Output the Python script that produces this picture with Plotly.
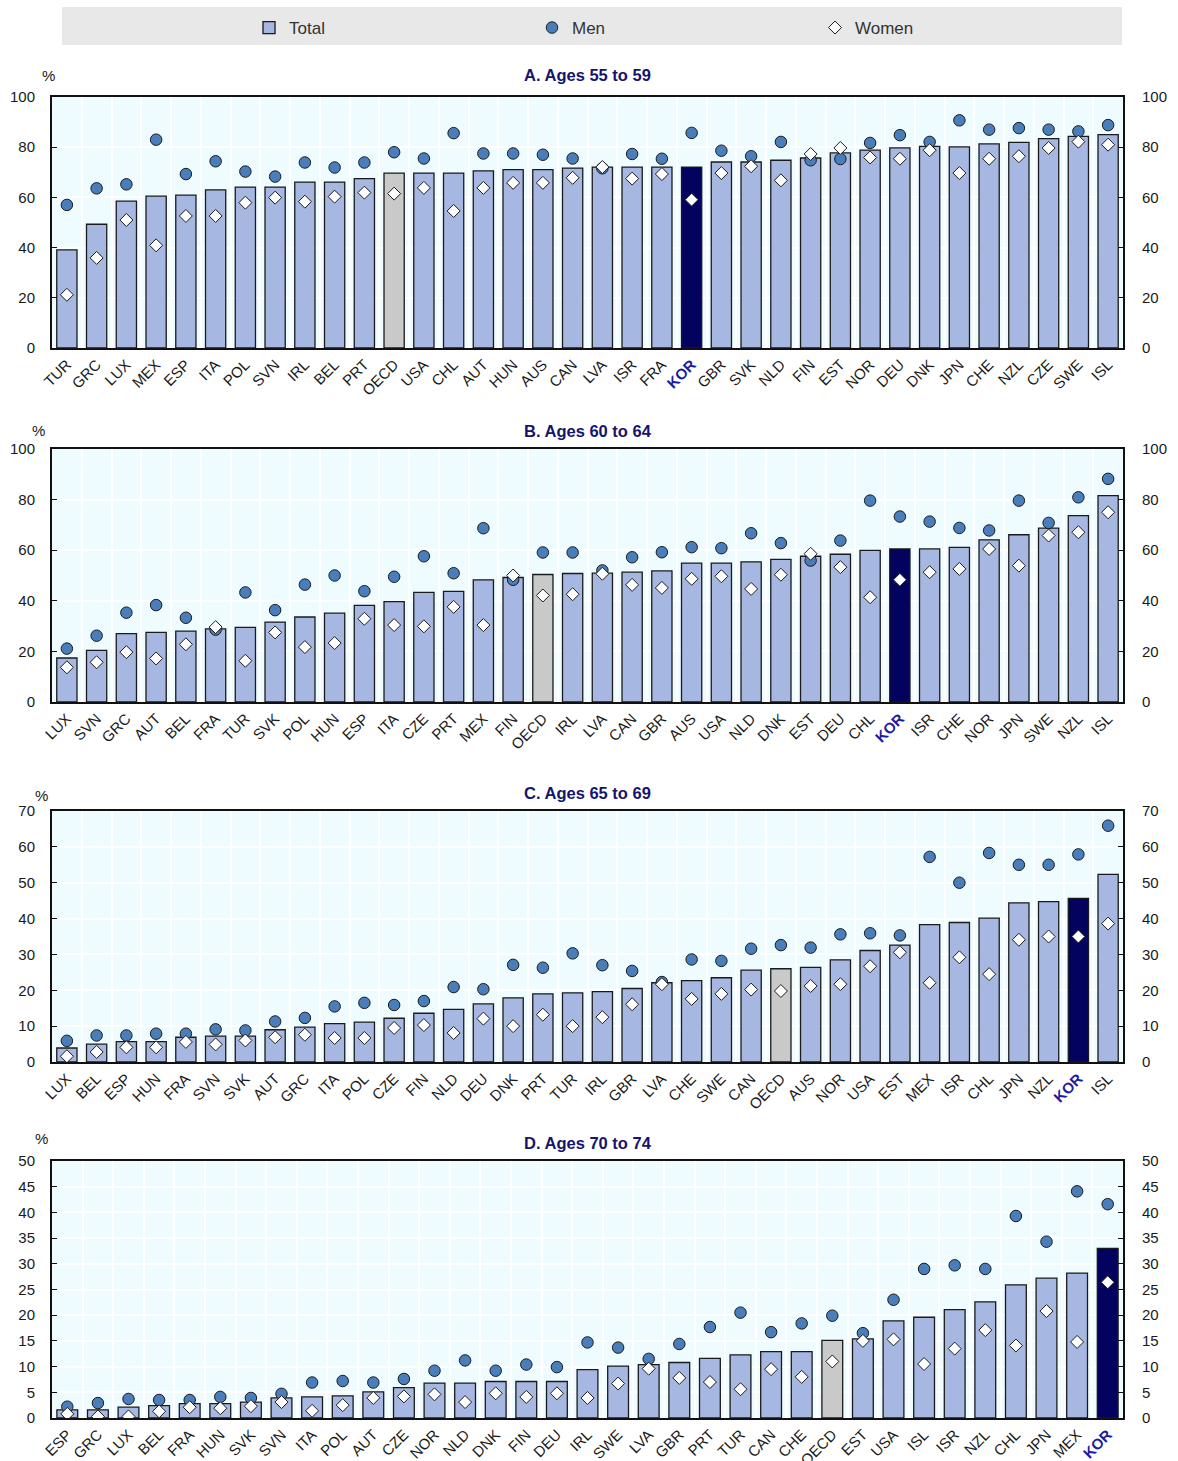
import plotly.graph_objects as go

# ---------------- Data ----------------
# Panel A: Ages 55 to 59
a_countries = ["TUR", "GRC", "LUX", "MEX", "ESP", "ITA", "POL", "SVN", "IRL", "BEL", "PRT", "OECD",
               "USA", "CHL", "AUT", "HUN", "AUS", "CAN", "LVA", "ISR", "FRA", "KOR", "GBR", "SVK",
               "NLD", "FIN", "EST", "NOR", "DEU", "DNK", "JPN", "CHE", "NZL", "CZE", "SWE", "ISL"]
a_total = [39.1, 49.3, 58.5, 60.5, 60.9, 63.0, 64.1, 64.1, 66.1, 66.1, 67.5, 69.7,
           69.7, 69.7, 70.6, 71.1, 71.1, 71.7, 72.1, 72.1, 72.1, 72.1, 74.1, 74.1,
           74.8, 75.7, 77.7, 78.8, 79.7, 80.3, 80.1, 81.3, 81.9, 83.4, 84.3, 85.0]
a_men = [57.0, 63.6, 65.2, 83.0, 69.3, 74.4, 70.3, 68.3, 73.9, 71.9, 73.9, 78.0,
         75.5, 85.6, 77.5, 77.5, 77.0, 75.5, 71.6, 77.3, 75.4, 85.7, 78.6, 76.4,
         82.1, 74.8, 75.3, 81.7, 84.8, 82.1, 90.7, 87.0, 87.6, 87.0, 86.3, 88.8]
a_women = [21.2, 35.9, 51.0, 40.9, 52.6, 52.6, 57.9, 59.9, 58.3, 60.3, 61.9, 61.5,
           63.8, 54.6, 63.8, 65.8, 65.8, 67.8, 72.1, 67.5, 69.3, 59.1, 69.7, 72.4,
           66.8, 77.3, 79.7, 75.9, 75.4, 78.8, 69.7, 75.4, 76.4, 79.7, 82.2, 81.0]

# Panel B: Ages 60 to 64
b_countries = ["LUX", "SVN", "GRC", "AUT", "BEL", "FRA", "TUR", "SVK", "POL", "HUN", "ESP", "ITA",
               "CZE", "PRT", "MEX", "FIN", "OECD", "IRL", "LVA", "CAN", "GBR", "AUS", "USA", "NLD",
               "DNK", "EST", "DEU", "CHL", "KOR", "ISR", "CHE", "NOR", "JPN", "SWE", "NZL", "ISL"]
b_total = [17.4, 20.4, 27.0, 27.5, 28.0, 28.9, 29.5, 31.6, 33.6, 35.1, 38.2, 39.7,
           43.3, 43.7, 48.3, 49.2, 50.4, 50.8, 50.9, 51.3, 51.8, 54.9, 54.9, 55.4,
           56.4, 57.6, 58.4, 59.9, 60.5, 60.5, 61.1, 64.1, 66.1, 68.7, 73.7, 81.6]
b_men = [21.1, 26.2, 35.3, 38.3, 33.3, 28.6, 43.3, 36.3, 46.4, 50.0, 43.8, 49.5,
         57.6, 50.9, 68.7, 48.3, 59.1, 59.1, 52.0, 57.2, 59.2, 61.2, 60.8, 66.7,
         62.8, 55.9, 63.8, 79.6, 73.3, 71.3, 68.8, 67.8, 79.6, 70.8, 80.9, 88.2]
b_women = [13.7, 15.7, 19.7, 17.2, 22.8, 29.6, 16.3, 27.5, 21.7, 23.3, 32.9, 30.4,
           29.9, 37.6, 30.4, 50.0, 42.1, 42.6, 50.7, 46.3, 45.1, 48.7, 49.7, 44.7,
           50.3, 58.6, 53.3, 41.4, 48.3, 51.3, 52.6, 60.5, 53.9, 65.8, 67.1, 75.0]

# Panel C: Ages 65 to 69
c_countries = ["LUX", "BEL", "ESP", "HUN", "FRA", "SVN", "SVK", "AUT", "GRC", "ITA", "POL", "CZE",
               "FIN", "NLD", "DEU", "DNK", "PRT", "TUR", "IRL", "GBR", "LVA", "CHE", "SWE", "CAN",
               "OECD", "AUS", "NOR", "USA", "EST", "MEX", "ISR", "CHL", "JPN", "NZL", "KOR", "ISL"]
c_total = [3.9, 5.0, 5.7, 5.7, 6.9, 7.2, 7.2, 9.0, 9.7, 10.7, 11.1, 12.2,
           13.6, 14.7, 16.2, 17.9, 19.0, 19.3, 19.6, 20.5, 22.1, 22.7, 23.5, 25.6,
           26.0, 26.4, 28.5, 31.1, 32.6, 38.3, 38.9, 40.1, 44.4, 44.7, 45.6, 52.3]
c_men = [5.9, 7.4, 7.4, 7.9, 7.9, 9.1, 8.8, 11.3, 12.3, 15.5, 16.5, 15.9,
         17.0, 20.9, 20.3, 27.1, 26.3, 30.3, 27.0, 25.4, 22.3, 28.6, 28.2, 31.6,
         32.6, 31.9, 35.6, 35.9, 35.3, 57.2, 50.0, 58.3, 55.0, 55.0, 57.9, 65.9]
c_women = [1.6, 2.8, 4.1, 4.1, 5.6, 4.9, 6.0, 6.9, 7.6, 6.7, 6.7, 9.5,
           10.3, 8.1, 12.1, 10.0, 13.2, 10.0, 12.5, 16.1, 21.7, 17.6, 19.0, 20.2,
           19.8, 21.2, 21.7, 26.7, 30.6, 22.1, 29.2, 24.5, 34.1, 35.0, 35.0, 38.6]

# Panel D: Ages 70 to 74
d_countries = ["ESP", "GRC", "LUX", "BEL", "FRA", "HUN", "SVK", "SVN", "ITA", "POL", "AUT", "CZE",
               "NOR", "NLD", "DNK", "FIN", "DEU", "IRL", "SWE", "LVA", "GBR", "PRT", "TUR", "CAN",
               "CHE", "OECD", "EST", "USA", "ISL", "ISR", "NZL", "CHL", "JPN", "MEX", "KOR"]
d_total = [1.6, 1.6, 2.1, 2.4, 2.8, 2.8, 3.1, 3.9, 4.1, 4.3, 5.1, 5.9,
           6.8, 6.8, 7.1, 7.1, 7.1, 9.4, 10.1, 10.4, 10.8, 11.6, 12.3, 12.9,
           12.9, 15.1, 15.4, 18.9, 19.6, 21.1, 22.6, 25.9, 27.2, 28.2, 33.0]
d_men = [2.2, 2.9, 3.7, 3.5, 3.5, 4.1, 3.9, 4.7, 6.9, 7.2, 6.9, 7.6,
         9.2, 11.2, 9.2, 10.4, 9.9, 14.7, 13.7, 11.5, 14.4, 17.7, 20.5, 16.7,
         18.4, 19.9, 16.5, 23.0, 29.0, 29.7, 29.0, 39.3, 34.3, 44.1, 41.6]
d_women = [0.8, 0.3, 0.3, 1.3, 2.1, 1.9, 2.3, 3.1, 1.4, 2.5, 3.9, 4.2,
           4.6, 3.1, 4.8, 4.1, 4.8, 3.9, 6.7, 9.6, 7.8, 7.0, 5.6, 9.5,
           8.0, 11.0, 15.0, 15.3, 10.5, 13.5, 17.1, 14.1, 20.8, 14.8, 26.4]

panel_titles = ["A. Ages 55 to 59", "B. Ages 60 to 64", "C. Ages 65 to 69", "D. Ages 70 to 74"]
y_max = [100, 100, 70, 50]
y_step = [20, 20, 10, 5]

# ---------------- Style ----------------
FONT = "Liberation Sans, Arial, sans-serif"
BAR_COLOR = "#a6b7e2"
OECD_COLOR = "#c9c9c9"
KOR_COLOR = "#03035f"
MEN_COLOR = "#4a7ebb"
EDGE = "#1a1a1a"
PLOT_BG = "#effcff"
TITLE_COLOR = "#15156e"
KOR_LABEL = "#1c1ca0"

W, H = 1178, 1461
x_dom = [52 / W, 1123 / W]
# panel pixel boxes (top, bottom)
panel_px = [(97, 348), (449, 702), (811, 1062), (1161, 1418)]
pct_px = [(48, 75), (38, 431), (41, 795), (41, 1138)]
title_py = [75, 431, 793, 1143]

panels = [
    (a_countries, a_total, a_men, a_women),
    (b_countries, b_total, b_men, b_women),
    (c_countries, c_total, c_men, c_women),
    (d_countries, d_total, d_men, d_women),
]

fig = go.Figure()
layout = {}
annotations = []

for i, (cats, tot, men, wom) in enumerate(panels):
    n = i + 1
    xa = "x" if n == 1 else f"x{n}"
    ya = "y" if n == 1 else f"y{n}"
    yr = f"y{n + 4}"
    colors = [OECD_COLOR if c == "OECD" else KOR_COLOR if c == "KOR" else BAR_COLOR for c in cats]
    fig.add_trace(go.Bar(
        x=cats, y=tot, xaxis=xa, yaxis=ya, name="Total", legendgroup="total",
        showlegend=(i == 0), width=0.68,
        marker=dict(color=colors, line=dict(color=EDGE, width=1.3)),
    ))
    fig.add_trace(go.Scatter(
        x=cats, y=men, xaxis=xa, yaxis=ya, mode="markers", name="Men", legendgroup="men",
        showlegend=(i == 0),
        marker=dict(symbol="circle", size=11.5, color=MEN_COLOR, line=dict(color=EDGE, width=1)),
    ))
    fig.add_trace(go.Scatter(
        x=cats, y=wom, xaxis=xa, yaxis=ya, mode="markers", name="Women", legendgroup="women",
        showlegend=(i == 0),
        marker=dict(symbol="diamond", size=10, color="white", line=dict(color=EDGE, width=1)),
    ))
    # invisible trace to bring up the right-hand axis
    fig.add_trace(go.Scatter(
        x=cats, y=tot, xaxis=xa, yaxis=yr, mode="markers", showlegend=False,
        hoverinfo="skip", marker=dict(opacity=0),
    ))

    top, bot = panel_px[i]
    y_dom = [1 - bot / H, 1 - top / H]
    ticktext = [f'<span style="color:{KOR_LABEL}"><b>{c}</b></span>' if c == "KOR" else c for c in cats]
    xkey = "xaxis" if n == 1 else f"xaxis{n}"
    ykey = "yaxis" if n == 1 else f"yaxis{n}"
    layout[xkey] = dict(
        domain=x_dom, anchor=ya, type="category", tickson="boundaries",
        tickvals=cats, ticktext=ticktext, tickangle=-45, ticks="",
        showgrid=True, gridcolor="white", gridwidth=1.5,
        showline=True, mirror=True, linecolor="#111111", linewidth=2,
        tickfont=dict(family=FONT, size=15, color="#1a1a1a"),
        range=[-0.5, len(cats) - 0.5], fixedrange=True, automargin=False,
    )
    common_y = dict(
        domain=y_dom, range=[0, y_max[i]], dtick=y_step[i], tick0=0,
        ticks="inside", ticklen=5, tickcolor="#111111",
        tickfont=dict(family=FONT, size=15, color="#1a1a1a"),
        zeroline=False, fixedrange=True, automargin=False,
    )
    layout[ykey] = dict(
        common_y, anchor=xa, showgrid=True, gridcolor="white", gridwidth=1.5,
        showline=True, mirror=True, linecolor="#111111", linewidth=2,
        ticklabelstandoff=12,
    )
    layout[f"yaxis{n + 4}"] = dict(
        common_y, anchor=xa, overlaying=ya, side="right", showgrid=False,
        showline=False, ticklabelstandoff=18,
    )

    annotations.append(dict(
        text=f"<b>{panel_titles[i]}</b>", xref="paper", yref="paper",
        x=(x_dom[0] + x_dom[1]) / 2, y=1 - title_py[i] / H, xanchor="center", yanchor="middle",
        showarrow=False, font=dict(family=FONT, size=16.5, color=TITLE_COLOR),
    ))
    annotations.append(dict(
        text="%", xref="paper", yref="paper",
        x=pct_px[i][0] / W, y=1 - pct_px[i][1] / H, xanchor="center", yanchor="middle",
        showarrow=False, font=dict(family=FONT, size=15, color="#1a1a1a"),
    ))

fig.update_layout(
    width=W, height=H, autosize=False,
    margin=dict(l=0, r=0, t=0, b=0, autoexpand=False),
    paper_bgcolor="white", plot_bgcolor=PLOT_BG,
    font=dict(family=FONT, size=15, color="#1a1a1a"),
    showlegend=True,
    legend=dict(
        orientation="h", x=249 / W, xanchor="left", y=1 - 28 / H, yanchor="middle",
        bgcolor="rgba(0,0,0,0)", entrywidth=238, entrywidthmode="pixels",
        font=dict(family=FONT, size=17, color="#333333"), traceorder="normal",
    ),
    shapes=[dict(
        type="rect", xref="paper", yref="paper", x0=62 / W, x1=1122 / W,
        y0=1 - 45 / H, y1=1 - 7 / H, fillcolor="#e8e8e8", line=dict(width=0), layer="below",
    )],
    annotations=annotations,
    **layout,
)

fig.write_html(
    "out.html",
    config={"displayModeBar": False},
    post_script="document.body.style.margin='0';document.body.style.overflow='hidden';",
)
